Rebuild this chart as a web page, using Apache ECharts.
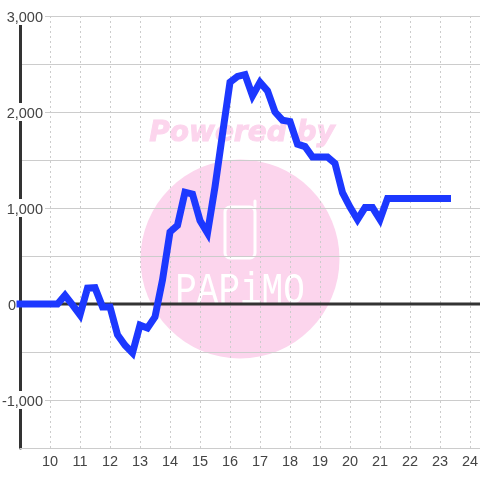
<!DOCTYPE html>
<html>
<head>
<meta charset="utf-8">
<style>html,body{margin:0;padding:0;background:#fff}#c{width:480px;height:480px}</style>
<script src="https://cdn.jsdelivr.net/npm/echarts@6/dist/echarts.min.js"></script>
</head>
<body>
<div id="c"></div>
<script>
const startHour = 9;
const stepHours = 0.25;
const values = [
  0, 0, 0, 0, 0, 0, 90, -10, -115, 165, 170, -30, -30, -320, -430, -510,
  -220, -250, -135, 250, 750, 820, 1165, 1145, 870, 740, 1220, 1770, 2310, 2370,
  2390, 2170, 2310, 2220, 2000, 1915, 1900, 1665, 1640, 1530, 1530, 1530, 1465, 1160,
  1010, 880, 1005, 1005, 880, 1100, 1100, 1100, 1100, 1100, 1100, 1100, 1100, 1100
];
const xMin = 9, xMax = 9 + 460 / 30;
const yMin = -1500, yMax = 3000, yStep = 500;
const yLabels = { '3000': '3,000', '2000': '2,000', '1000': '1,000', '0': '0', '-1000': '-1,000' };
const lineData = values.map((v, i) => [startHour + i * stepHours, v]);
const zeroLine = [[xMin, 0], [xMax, 0]];
const pink = '#fcd5ed';

const chart = echarts.init(document.getElementById('c'), null, { renderer: 'canvas' });
chart.setOption({
  animation: false,
  backgroundColor: '#fff',
  textStyle: { fontFamily: '"Liberation Sans"' },
  grid: { left: 20, right: 0, top: 16, bottom: 32, outerBoundsMode: 'none', containLabel: false },
  xAxis: {
    type: 'value', min: xMin, max: xMax, interval: 1,
    axisLine: { onZero: false, lineStyle: { color: '#ccc', width: 1 } },
    axisTick: { show: false },
    splitLine: { show: true, showMinLine: false, showMaxLine: false, lineStyle: { color: '#ccc', width: 1, type: [2, 3] } },
    axisLabel: {
      color: '#444', fontSize: 14.5, margin: 6, showMinLabel: false, showMaxLabel: false,
      formatter: v => Number.isInteger(v) && v > 9 ? String(v) : ''
    }
  },
  yAxis: {
    type: 'value', min: yMin, max: yMax, interval: yStep,
    axisLine: { show: true, onZero: false, lineStyle: { color: '#333', width: 3 } },
    axisTick: { show: false },
    splitLine: { show: true, lineStyle: { color: '#ccc', width: 1 } },
    axisLabel: {
      color: '#444', fontSize: 14.5, margin: -25, align: 'right',
      formatter: v => {
        const t = yLabels[String(v)];
        if (!t) return '';
        return v === 0 ? '{z|' + t + '}' : '{a|' + t + '}';
      },
      rich: {
        a: { fontSize: 14.5, color: '#444', backgroundColor: '#fff', lineHeight: 14, padding: [3, 2, 0, 2] },
        z: { fontSize: 14.5, color: '#444', lineHeight: 14, padding: [3, 29, 0, 0] }
      }
    }
  },
  graphic: [
    { type: 'circle', z: -10, silent: true, shape: { cx: 240, cy: 259, r: 99.5 }, style: { fill: pink } },
    { type: 'text', z: -10, silent: true, x: 242, y: 134, style: {
        text: 'Powered by', fill: pink, stroke: pink, lineWidth: 1, align: 'center', verticalAlign: 'middle',
        font: 'italic bold 28px "DejaVu Sans"' } },
    { type: 'rect', z: -9, silent: true, shape: { x: 225, y: 207, width: 30, height: 51, r: 5 },
      style: { fill: 'none', stroke: '#fff', lineWidth: 3 } },
    { type: 'line', z: -9, silent: true, shape: { x1: 255, y1: 207, x2: 255, y2: 201 },
      style: { stroke: '#fff', lineWidth: 3, lineCap: 'round' } },
    { type: 'text', z: -9, silent: true, x: 240, y: 291, scaleY: 1.25, style: {
        text: 'PAPiMO', fill: '#fff', align: 'center', verticalAlign: 'middle',
        font: '36px "Liberation Mono"' } }
  ],
  series: [
    {
      type: 'line', data: zeroLine, z: 3, symbol: 'none', silent: true, clip: false,
      lineStyle: { color: '#333', width: 3, cap: 'butt' }
    },
    {
      type: 'line', data: lineData, z: 5, symbol: 'none', silent: true, clip: false, smooth: false,
      lineStyle: { color: '#1c38ff', width: 7, cap: 'square', join: 'miter' }
    }
  ]
});
</script>
</body>
</html>
